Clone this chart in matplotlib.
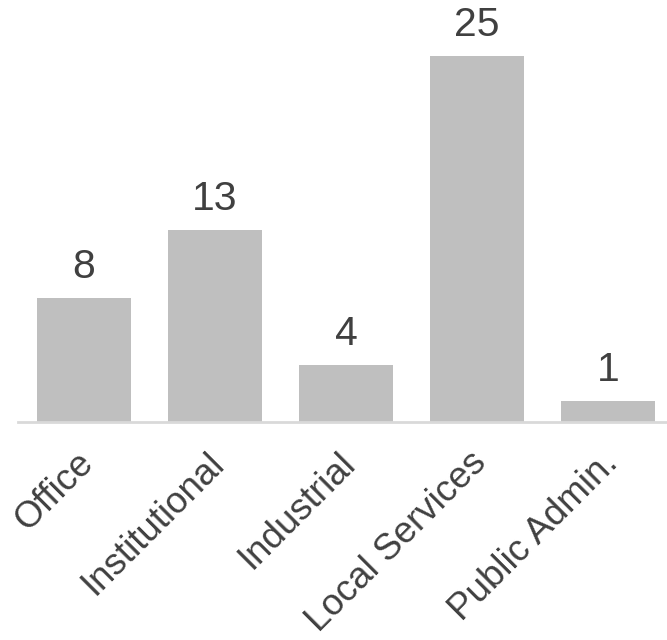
import matplotlib
matplotlib.use("Agg")
import matplotlib.pyplot as plt
from matplotlib.transforms import ScaledTranslation

categories = ["Office", "Institutional", "Industrial", "Local Services", "Public Admin."]
values = [8.46, 13.15, 3.91, 25.0, 1.43]

plt.rcParams['font.family'] = ['Liberation Sans', 'DejaVu Sans']

W, H = 667, 640
fig = plt.figure(figsize=(W/100, H/100), dpi=100)
left = 18 / W
bottom = (H - 422) / H
ax = fig.add_axes([left, bottom, 1 - left, 1 - bottom])

pos = list(range(len(categories)))
bars = ax.bar(pos, values, width=0.72, color="#BFBFBF", zorder=2)
for p, v in zip(pos, values):
    ax.annotate(f"{v:.0f}", xy=(p, v), xytext=(0, 14.4), textcoords="offset points",
                ha="center", va="baseline", fontsize=29.5, color="#404040")

ax.set_xlim(-0.504, 4.45)
ax.set_ylim(0, 418 / 14.5)
ax.set_yticks([])
ax.set_xticks(pos)
ax.set_xticklabels(categories, rotation=45, ha="right", va="top", rotation_mode="anchor",
                   fontsize=26.5, color="#404040")
ax.tick_params(axis="x", length=0, pad=14)
shift = ScaledTranslation(-8 / 100, -4 / 100, fig.dpi_scale_trans)
for lab in ax.get_xticklabels():
    lab.set_transform(lab.get_transform() + shift)
for s in ["top", "right", "left"]:
    ax.spines[s].set_visible(False)
ax.spines["bottom"].set_color("#D9D9D9")
ax.spines["bottom"].set_linewidth(2)
ax.patch.set_alpha(0)

fig.savefig("out.png", dpi=100)
